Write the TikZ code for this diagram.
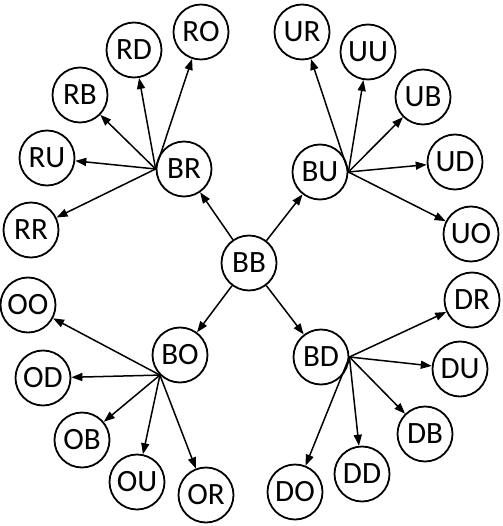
\documentclass[tikz,border=0pt]{standalone}
\usepackage{fontspec}
\setmainfont{Carlito}
\usetikzlibrary{arrows.meta}
\begin{document}
\begin{tikzpicture}[x=1pt,y=-1pt,
  st/.style={circle,draw,line width=1.8pt,minimum size=55pt,inner sep=0pt,font=\fontsize{31}{31}\selectfont},
  arr/.style={line width=1.5pt,-{Triangle[length=11pt,width=8pt]}}]
\useasboundingbox (0,0) rectangle (502,526);
\node[st] (BB) at (249,263) {BB};
\node[st] (BR) at (184,169) {BR};
\node[st] (BU) at (320,172) {BU};
\node[st] (BO) at (180,355) {BO};
\node[st] (BD) at (321,357) {BD};
\node[st] (RO) at (201,32) {RO};
\node[st] (RD) at (134,50) {RD};
\node[st] (RB) at (80,95) {RB};
\node[st] (RU) at (47,158) {RU};
\node[st] (RR) at (31,230) {RR};
\node[st] (UR) at (302,32) {UR};
\node[st] (UU) at (368,52) {UU};
\node[st] (UB) at (423,97) {UB};
\node[st] (UD) at (455,162) {UD};
\node[st] (UO) at (471,234) {UO};
\node[st] (OO) at (28,305) {OO};
\node[st] (OD) at (43,378) {OD};
\node[st] (OB) at (82,440) {OB};
\node[st] (OU) at (137,482) {OU};
\node[st] (OR) at (206,495) {OR};
\node[st] (DR) at (472,300) {DR};
\node[st] (DU) at (460,369) {DU};
\node[st] (DB) at (425,434) {DB};
\node[st] (DD) at (362,474) {DD};
\node[st] (DO) at (295,492) {DO};
\foreach \t in {BR,BU,BO,BD} \draw[arr] (BB) -- (\t);
\foreach \t in {RO,RD,RB,RU,RR} \draw[arr] (BR.west) -- (\t);
\foreach \t in {UR,UU,UB,UD,UO} \draw[arr] (BU.east) -- (\t);
\foreach \t in {OO,OD,OB,OU,OR} \draw[arr] (BO.south west) -- (\t);
\foreach \t in {DR,DU,DB,DD,DO} \draw[arr] (BD.east) -- (\t);
\end{tikzpicture}
\end{document}
